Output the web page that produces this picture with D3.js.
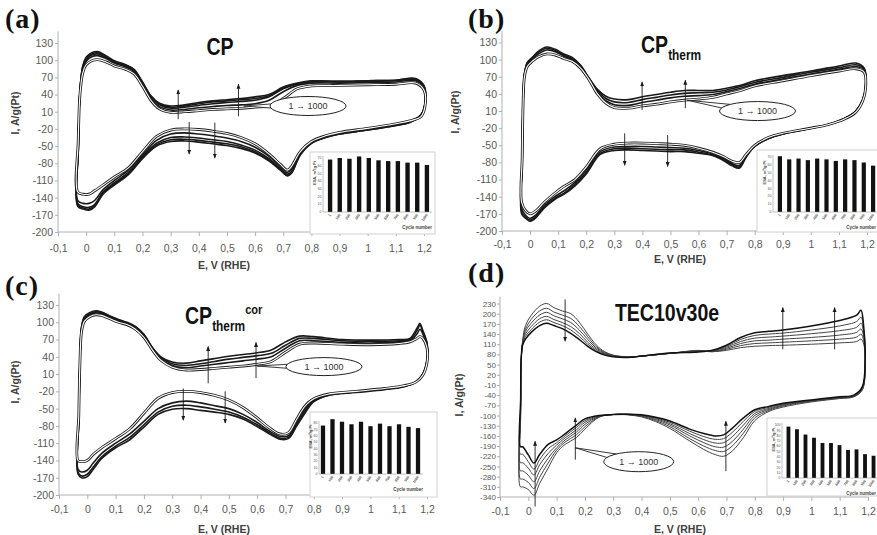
<!DOCTYPE html>
<html>
<head>
<meta charset="utf-8">
<script src="https://cdn.jsdelivr.net/npm/d3@7/dist/d3.min.js"></script>
<style>
html,body{margin:0;padding:0;background:#fff;}
svg{display:block;}
</style>
</head>
<body>
<svg id="fig" width="877" height="535"></svg>
<script>
// ---------------- shared tick labels ----------------
const eTicks = [-0.1,0,0.1,0.2,0.3,0.4,0.5,0.6,0.7,0.8,0.9,1,1.1,1.2];
const iTicksStd = [-200,-170,-140,-110,-80,-50,-20,10,40,70,100,130];
const iTicksTec = [-340,-310,-280,-250,-220,-190,-160,-130,-100,-70,-40,-10,20,50,80,110,140,170,200,230];
const cycleLabels = ['1','100','200','300','400','500','600','700','800','900','1000'];
const esaTicks70 = [0,10,20,30,40,50,60,70];
const esaTicks80 = [0,10,20,30,40,50,60,70,80];
const esaTicks100 = [0,10,20,30,40,50,60,70,80,90,100];

// ---------------- panel (a) CP ----------------
const cpE = [-0.03,-0.028,-0.022,-0.012,0,0.02,0.04,0.07,0.1,0.14,
  0.17,0.2,0.23,0.26,0.3,0.35,0.4,0.45,0.5,0.55,
  0.6,0.65,0.7,0.75,0.8,0.9,1.0,1.1,1.17,1.2,
  1.205,1.19,1.15,1.1,1.0,0.9,0.85,0.8,0.76,0.73,
  0.715,0.69,0.65,0.6,0.55,0.5,0.45,0.4,0.35,0.3,
  0.25,0.2,0.15,0.1,0.06,0.03,0.01,-0.01];
const cpCycle1 = [-130,-40,40,78,92,99,101,97,90,84,
  76,55,30,15,9,10,12,14,15,16,
  18,20,33,50,55,56,57,58,60,48,
  25,2,-6,-11,-19,-26,-32,-42,-60,-85,
  -92,-82,-64,-46,-35,-28,-24,-21,-20,-22,
  -33,-60,-88,-104,-118,-128,-134,-134];
const cpCycle250 = [-145,-50,42,84,98,106,108,103,95,88,
  80,58,33,19,13,14,17,19,21,22,
  24,30,45,56,60,60,61,62,64,52,
  28,4,-7,-12,-20,-27,-33,-43,-62,-90,
  -96,-86,-68,-52,-42,-36,-32,-29,-27,-29,
  -40,-65,-92,-110,-126,-145,-150,-150];
const cpCycle500 = [-150,-55,44,87,101,109,111,105,97,90,
  82,60,36,22,16,18,21,24,26,28,
  30,36,50,58,62,62,63,64,66,54,
  30,5,-8,-13,-21,-28,-34,-44,-64,-94,
  -99,-89,-72,-57,-48,-42,-39,-36,-34,-35,
  -45,-68,-96,-114,-130,-152,-157,-156];
const cpCycle750 = [-153,-58,45,89,103,111,113,107,98,91,
  83,61,37,24,18,20,24,27,29,31,
  33,38,52,59,63,63,64,65,67,55,
  30,5,-8,-14,-22,-29,-35,-45,-65,-96,
  -101,-91,-74,-60,-51,-46,-43,-40,-38,-39,
  -48,-70,-98,-116,-132,-154,-160,-158];
const cpCycle1000 = [-155,-60,45,90,105,113,115,108,99,92,
  84,62,38,25,20,22,26,29,31,33,
  36,40,53,60,64,63,64,65,68,55,
  30,5,-9,-14,-22,-29,-35,-45,-66,-97,
  -102,-92,-76,-62,-54,-49,-46,-43,-41,-42,
  -50,-72,-100,-118,-134,-156,-162,-160];
const cpArrows = [[0.327,-3,48],[0.541,2,58],[0.366,-8,-64],[0.457,-9,-71]];
const cpCallout = [0.788,20,0.56,20];
const cpEsa = [68,70,69,72,70,67,66,66,64,64,61];

// ---------------- panel (b) CP_therm ----------------
const thE = [-0.03,-0.028,-0.025,-0.02,-0.01,0.01,0.03,0.06,0.09,0.12,
  0.15,0.18,0.21,0.24,0.27,0.3,0.35,0.4,0.45,0.5,
  0.55,0.6,0.65,0.7,0.75,0.8,0.9,1.0,1.1,1.16,
  1.19,1.195,1.185,1.16,1.12,1.06,1.0,0.9,0.85,0.8,
  0.77,0.745,0.72,0.69,0.65,0.6,0.55,0.5,0.45,0.4,
  0.35,0.3,0.25,0.2,0.16,0.12,0.09,0.05,0.02,0,-0.015];
const thCycle1 = [-150,-70,20,70,88,98,105,110,108,102,
  97,85,65,40,24,16,15,19,22,26,
  29,31,34,40,46,54,63,72,80,84,
  78,50,28,8,-4,-14,-20,-29,-36,-50,
  -66,-80,-78,-70,-62,-55,-50,-48,-47,-46,
  -46,-48,-56,-88,-110,-122,-133,-150,-165,-170,-165];
const thCycle300 = [-160,-75,20,72,92,102,110,117,114,106,
  100,87,66,43,28,21,20,25,29,33,
  36,37,39,44,50,57,66,75,83,88,
  82,52,29,9,-3,-14,-20,-29,-37,-51,
  -68,-85,-82,-73,-65,-59,-55,-54,-53,-52,
  -52,-53,-61,-93,-115,-130,-139,-155,-172,-178,-173];
const thCycle600 = [-165,-78,20,74,94,104,113,120,116,108,
  102,89,67,46,32,26,25,30,34,38,
  41,42,43,47,53,60,69,78,86,91,
  84,54,30,10,-3,-14,-20,-30,-38,-52,
  -70,-88,-84,-75,-67,-62,-58,-58,-57,-56,
  -55,-56,-64,-97,-118,-134,-142,-158,-175,-181,-176];
const thCycle1000 = [-170,-80,20,75,95,105,115,122,118,110,
  104,90,68,48,36,31,30,35,39,43,
  46,46,46,50,55,63,72,80,89,94,
  85,55,30,10,-3,-14,-20,-30,-38,-52,
  -70,-90,-86,-77,-68,-64,-61,-61,-60,-59,
  -58,-59,-66,-100,-121,-136,-144,-160,-177,-183,-178];
const thArrows = [[0.399,12,61],[0.553,15,64],[0.337,-29,-85],[0.49,-32,-87]];
const thCallout = [0.81,10,0.559,29];
const thEsa = [71,67,68,66,68,67,65,67,66,63,59];

// ---------------- panel (c) CP_therm^cor ----------------
const corE = [-0.033,-0.03,-0.026,-0.02,-0.01,0.01,0.03,0.05,0.08,0.11,
  0.14,0.17,0.2,0.23,0.26,0.3,0.35,0.4,0.45,0.5,
  0.55,0.6,0.65,0.7,0.75,0.8,0.9,1.0,1.1,1.14,
  1.165,1.175,1.185,1.2,1.2,1.185,1.16,1.12,1.05,0.95,
  0.85,0.8,0.77,0.74,0.71,0.68,0.64,0.6,0.55,0.5,
  0.45,0.4,0.35,0.3,0.25,0.2,0.15,0.1,0.05,0.02,0,-0.02];
const corCycle1 = [-140,-60,30,85,102,110,113,112,106,100,
  96,88,74,52,34,22,17,18,20,22,
  24,27,32,48,62,64,62,61,63,66,
  72,75,72,55,30,8,-4,-10,-15,-20,
  -25,-33,-45,-68,-92,-94,-82,-66,-48,-35,
  -27,-22,-20,-22,-32,-58,-85,-102,-118,-130,-140,-142];
const corCycle300 = [-155,-65,30,90,106,113,116,115,108,102,
  98,90,76,54,36,25,21,24,27,30,
  33,36,40,55,68,68,65,64,66,68,
  80,88,80,60,32,9,-4,-11,-16,-21,
  -26,-35,-50,-74,-97,-98,-88,-74,-60,-50,
  -45,-40,-37,-40,-50,-72,-94,-110,-128,-145,-157,-160];
const corCycle600 = [-160,-68,30,92,108,115,118,117,110,104,
  99,92,78,55,38,28,25,28,32,36,
  39,42,46,60,72,72,68,67,68,70,
  86,95,84,62,33,10,-4,-11,-16,-21,
  -27,-37,-54,-78,-100,-101,-91,-78,-65,-56,
  -51,-47,-44,-46,-56,-78,-100,-115,-134,-152,-164,-167];
const corCycle1000 = [-163,-70,30,93,110,117,120,118,111,105,
  100,93,79,56,40,31,29,33,37,41,
  44,47,52,66,76,75,70,69,70,72,
  90,98,86,64,34,10,-4,-12,-17,-22,
  -27,-38,-57,-80,-102,-103,-93,-81,-68,-60,
  -56,-53,-50,-51,-60,-82,-104,-118,-137,-156,-168,-170];
const corArrows = [[0.427,-6,58],[0.596,3,65],[0.339,-15,-70],[0.487,-20,-75]];
const corCallout = [0.836,23,0.6,24];
const corEsa = [76,86,82,78,82,75,79,75,78,74,72];

// ---------------- panel (d) TEC10v30e ----------------
const tecE = [-0.028,-0.027,-0.025,-0.02,-0.01,0.01,0.04,0.065,0.09,0.12,
  0.15,0.18,0.21,0.24,0.27,0.3,0.35,0.4,0.5,0.6,
  0.65,0.7,0.75,0.8,0.85,0.9,1.0,1.1,1.16,1.175,
  1.185,1.19,1.18,1.15,1.1,1.0,0.9,0.85,0.8,0.76,
  0.72,0.69,0.66,0.62,0.57,0.5,0.45,0.4,0.35,0.3,
  0.25,0.2,0.17,0.13,0.1,0.07,0.04,0.02,0,-0.02];
const tecCycle1 = [-310,-100,60,120,165,195,222,230,218,208,
  200,175,140,108,88,78,73,75,83,92,
  88,92,100,104,106,107,110,114,118,125,
  110,40,-25,-45,-50,-60,-75,-88,-115,-165,
  -205,-220,-215,-200,-175,-138,-118,-104,-98,-97,
  -105,-140,-165,-185,-210,-255,-300,-335,-318,-310];
const tecCycle200 = [-287,-90,62,118,155,183,208,216,205,196,
  186,163,132,103,86,77,73,75,83,91,
  88,95,106,112,114,116,120,125,131,140,
  120,45,-23,-44,-49,-58,-72,-85,-107,-152,
  -190,-206,-203,-190,-168,-133,-115,-102,-97,-97,
  -104,-133,-157,-178,-202,-240,-282,-315,-297,-287];
const tecCycle400 = [-263,-80,64,115,148,172,196,204,194,185,
  174,152,124,99,84,76,72,75,83,90,
  89,98,112,120,122,125,130,137,145,155,
  130,50,-21,-43,-48,-57,-70,-82,-100,-140,
  -177,-193,-192,-180,-160,-128,-112,-101,-97,-97,
  -103,-126,-149,-172,-195,-226,-263,-295,-276,-263];
const tecCycle600 = [-239,-70,66,112,140,162,185,192,183,174,
  162,142,116,95,82,75,72,75,83,89,
  90,101,118,128,131,134,141,150,160,172,
  140,55,-19,-42,-47,-56,-68,-79,-94,-128,
  -163,-180,-181,-171,-153,-124,-109,-100,-96,-97,
  -102,-120,-142,-166,-187,-212,-245,-275,-255,-239];
const tecCycle800 = [-214,-60,68,110,133,153,175,182,174,165,
  152,133,110,91,80,74,72,75,84,88,
  91,104,124,136,140,143,152,164,177,190,
  150,60,-17,-41,-46,-55,-66,-76,-88,-117,
  -150,-168,-170,-162,-146,-120,-107,-99,-96,-97,
  -101,-115,-135,-160,-180,-198,-230,-258,-236,-214];
const tecCycle1000 = [-192,-50,70,108,125,145,165,172,165,156,
  142,124,104,88,78,73,71,75,84,87,
  92,107,130,144,148,152,164,180,196,210,
  160,65,-15,-40,-45,-54,-64,-73,-83,-107,
  -138,-157,-160,-153,-140,-116,-105,-98,-96,-97,
  -100,-110,-128,-154,-172,-185,-215,-240,-216,-192];
const tecArrows = [[0.13,242,119],[0.899,95,218],[1.082,95,218],[0.024,-368,-176],[0.166,-230,-107],[0.698,-264,-117]];
const tecCallout = [0.39,-236,0.166,-195];
const tecEsa = [97,92,82,76,66,66,62,53,54,45,42];

// ---------------- layout (pixels / styles only) ----------------
const FONT = "'Liberation Sans', Arial, sans-serif";
const panels = [
  {tag:'(a)', tagX:5, tagY:28, E:cpE, dark:[cpCycle250,cpCycle500,cpCycle750,cpCycle1000], white:cpCycle1,
   x0:58, x1:424, yB:232, yT:43, dom:[-200,130], top:150, ticks:iTicksStd, tickFont:10.5, xPad:9,
   xt:[224,269], yt:[15,113], arrows:cpArrows, call:cpCallout, rx:38, ry:9.5,
   title:[{t:'CP',s:23}], titleX:220, titleY:55, titleAnchor:'middle',
   inset:{box:[310,152,125,82], ax:323, band:[325,432], base:212, topPx:158, dom:70, ticks:esaTicks70, vals:cpEsa}},
  {tag:'(b)', tagX:468, tagY:28, E:thE, dark:[thCycle300,thCycle600,thCycle1000], white:thCycle1,
   x0:502, x1:867, yB:231, yT:42.5, dom:[-200,130], top:150, ticks:iTicksStd, tickFont:10.5, xPad:6,
   xt:[680,263], yt:[455,112], arrows:thArrows, call:thCallout, rx:38, ry:9.5,
   title:[{t:'CP',s:23},{t:'therm',s:14,dy:7}], titleX:641, titleY:53, titleAnchor:'start',
   inset:{box:[757,150,125,82], ax:773, band:[775,878], base:212, topPx:157, dom:70, ticks:esaTicks70, vals:thEsa}},
  {tag:'(c)', tagX:5, tagY:295, E:corE, dark:[corCycle300,corCycle600,corCycle1000], white:corCycle1,
   x0:59, x1:427, yB:495, yT:305, dom:[-200,130], top:150, ticks:iTicksStd, tickFont:10.5, xPad:7,
   xt:[224,533], yt:[15,382], arrows:corArrows, call:corCallout, rx:38, ry:9,
   title:[{t:'CP',s:23},{t:'therm',s:14,dy:7},{t:'cor',s:13,dy:-17}], titleX:185, titleY:324, titleAnchor:'start',
   inset:{box:[310,412,127,85], ax:319, band:[318,423], base:474, topPx:423, dom:80, ticks:esaTicks80, vals:corEsa}},
  {tag:'(d)', tagX:468, tagY:282, E:tecE, dark:[tecCycle1,tecCycle200,tecCycle400,tecCycle600,tecCycle800,tecCycle1000], white:null,
   x0:500, x1:868, yB:497, yT:303.5, dom:[-340,230], top:250, ticks:iTicksTec, tickFont:8, xPad:7,
   xt:[680,533], yt:[459,395], arrows:tecArrows, call:tecCallout, rx:35, ry:10,
   title:[{t:'TEC10v30e',s:23}], titleX:667, titleY:321, titleAnchor:'middle',
   inset:{box:[767,418,115,78], ax:782, band:[784,878], base:478, topPx:425, dom:100, ticks:esaTicks100, vals:tecEsa}}
];

const svg = d3.select('#fig');
svg.append('rect').attr('width',877).attr('height',535).attr('fill','#fff');
const defs = svg.append('defs');
defs.append('marker').attr('id','ah').attr('viewBox','0 0 10 10').attr('refX',9).attr('refY',5)
  .attr('markerWidth',5).attr('markerHeight',5).attr('markerUnits','userSpaceOnUse').attr('orient','auto')
  .append('path').attr('d','M0,1 L10,5 L0,9 z').attr('fill','#1a1a1a');

const fmtE = d => d === 0 ? '0' : String(+d.toFixed(1)).replace('.', ',');

panels.forEach(p => {
  const g = svg.append('g');
  const x = d3.scaleLinear().domain([-0.1,1.2]).range([p.x0,p.x1]);
  const y = d3.scaleLinear().domain(p.dom).range([p.yB,p.yT]);

  // axes
  const gx = g.append('g').attr('transform',`translate(0,${p.yB})`)
    .call(d3.axisBottom(x).tickValues(eTicks).tickSize(4).tickPadding(p.xPad).tickFormat(fmtE));
  const gy = g.append('g').attr('transform',`translate(${p.x0},0)`)
    .call(d3.axisLeft(y).tickValues(p.ticks).tickSize(3).tickPadding(p.tickFont < 9 ? 1 : 2).tickFormat(d => d));
  [gx,gy].forEach(a => {
    a.select('.domain').remove();
    a.selectAll('line').attr('stroke','#b0b0b0');
    a.selectAll('text').attr('fill','#595959').style('font-family',FONT);
  });
  gx.selectAll('text').style('font-size','10.5px');
  gy.selectAll('text').style('font-size',p.tickFont+'px');
  g.append('line').attr('x1',p.x0).attr('x2',p.x1).attr('y1',p.yB).attr('y2',p.yB).attr('stroke','#b0b0b0');
  g.append('line').attr('x1',p.x0).attr('x2',p.x0).attr('y1',p.yB).attr('y2',y(p.top)).attr('stroke','#b0b0b0');

  // axis titles
  g.append('text').attr('x',p.xt[0]).attr('y',p.xt[1]).attr('text-anchor','middle')
    .style('font-family',FONT).style('font-size','10.5px').style('font-weight','bold').attr('fill','#404040')
    .text('E, V (RHE)');
  g.append('text').attr('transform',`translate(${p.yt[0]+4},${p.yt[1]}) rotate(-90)`).attr('text-anchor','middle')
    .style('font-family',FONT).style('font-size','10.5px').style('font-weight','bold').attr('fill','#404040')
    .text('I, A/g(Pt)');

  // curves
  const line = d3.line().x(d => x(d[0])).y(d => y(d[1])).curve(d3.curveCatmullRomClosed.alpha(0.5));
  const pts = c => p.E.map((e,i) => [e, c[i]]).filter(d => d[1] !== undefined);
  const isTec = p.white === null;
  p.dark.forEach((c,k) => {
    g.append('path').attr('d', line(pts(c))).attr('fill','none')
      .attr('stroke', isTec ? (k === p.dark.length-1 ? '#111' : '#444') : '#1a1a1a')
      .attr('stroke-width', isTec ? (k === p.dark.length-1 ? 1.5 : 1.0) : 1.6);
  });
  if (p.white) {
    g.append('path').attr('d', line(pts(p.white))).attr('fill','none').attr('stroke','#1a1a1a').attr('stroke-width',2.8);
    g.append('path').attr('d', line(pts(p.white))).attr('fill','none').attr('stroke','#fff').attr('stroke-width',1.1);
  }

  // arrows
  p.arrows.forEach(a => {
    g.append('line').attr('x1',x(a[0])).attr('x2',x(a[0])).attr('y1',y(a[1])).attr('y2',y(a[2]))
      .attr('stroke','#1a1a1a').attr('stroke-width',0.9).attr('marker-end','url(#ah)');
  });

  // callout
  const cx = x(p.call[0]), cy = y(p.call[1]), tx = x(p.call[2]), ty = y(p.call[3]);
  const t0 = Math.atan2((ty-cy)/p.ry, (tx-cx)/p.rx);
  const b1 = [cx + p.rx*Math.cos(t0-0.22), cy + p.ry*Math.sin(t0-0.22)];
  const b2 = [cx + p.rx*Math.cos(t0+0.22), cy + p.ry*Math.sin(t0+0.22)];
  g.append('path').attr('d',`M${tx},${ty}L${b1[0]},${b1[1]}L${b2[0]},${b2[1]}Z`)
    .attr('fill','#fff').attr('stroke','#222').attr('stroke-width',0.9);
  g.append('ellipse').attr('cx',cx).attr('cy',cy).attr('rx',p.rx).attr('ry',p.ry)
    .attr('fill','#fff').attr('stroke','#222').attr('stroke-width',1);
  g.append('text').attr('x',cx).attr('y',cy+3.2).attr('text-anchor','middle')
    .style('font-family',FONT).style('font-size','9px').attr('fill','#333').text('1 \u2192 1000');

  // titles (horizontally condensed to mimic the narrow bold face)
  const tg = g.append('g').attr('transform',`translate(${p.titleX},${p.titleY}) scale(0.85,1)`);
  const tt = tg.append('text').attr('x',0).attr('y',0).attr('text-anchor',p.titleAnchor)
    .style('font-family',FONT).style('font-weight','bold').attr('fill','#111');
  p.title.forEach(s => {
    const sp = tt.append('tspan').style('font-size',s.s+'px').text(s.t);
    if (s.dy) sp.attr('dy',s.dy);
  });
  g.append('text').attr('x',p.tagX).attr('y',p.tagY)
    .style('font-family',"'Liberation Serif','Times New Roman',serif").style('font-weight','bold')
    .style('font-size','28px').style('letter-spacing','1px').attr('fill','#111').text(p.tag);

  // inset
  const ins = p.inset;
  const gi = svg.append('g');
  gi.append('rect').attr('x',ins.box[0]).attr('y',ins.box[1]).attr('width',ins.box[2]).attr('height',ins.box[3])
    .attr('fill','#fff').attr('stroke','#d0d0d0').attr('stroke-width',1);
  const xb = d3.scaleBand().domain(cycleLabels).range(ins.band).paddingInner(0.55).paddingOuter(0.3);
  const yb = d3.scaleLinear().domain([0, ins.dom]).range([ins.base, ins.topPx]);
  gi.selectAll('rect.bar').data(ins.vals).join('rect').attr('class','bar')
    .attr('x',(d,i) => xb(cycleLabels[i])).attr('width',xb.bandwidth())
    .attr('y',d => yb(d)).attr('height',d => ins.base - yb(d)).attr('fill','#111');
  gi.append('line').attr('x1',ins.ax).attr('x2',ins.ax).attr('y1',ins.base).attr('y2',yb(ins.dom)-2).attr('stroke','#999').attr('stroke-width',0.6);
  gi.append('line').attr('x1',ins.ax).attr('x2',ins.band[1]).attr('y1',ins.base).attr('y2',ins.base).attr('stroke','#999').attr('stroke-width',0.6);
  gi.selectAll('text.yt').data(ins.ticks).join('text').attr('class','yt')
    .attr('x',ins.ax-1.5).attr('y',d => yb(d)+1.2).attr('text-anchor','end')
    .style('font-family',FONT).style('font-size','3.5px').attr('fill','#555').text(d => d);
  gi.selectAll('text.xl').data(cycleLabels).join('text').attr('class','xl')
    .attr('transform',d => `translate(${xb(d)+xb.bandwidth()/2+1},${ins.base+3}) rotate(-55)`)
    .attr('text-anchor','end').style('font-family',FONT).style('font-size','3.6px').style('font-weight','bold').attr('fill','#555').text(d => d);
  gi.append('text').attr('x',Math.min(ins.band[1], 876)).attr('y',ins.base+17).attr('text-anchor','end')
    .style('font-family',FONT).style('font-size','4.5px').style('font-weight','bold').attr('fill','#444').text('Cycle number');
  gi.append('text').attr('transform',`translate(${ins.ax-7},${(ins.base+ins.topPx)/2-12}) rotate(-90)`).attr('text-anchor','middle')
    .style('font-family',FONT).style('font-size','4px').style('font-weight','bold').attr('fill','#444').text('ESA, m\u00b2/g Pt');
});
</script>
</body>
</html>
